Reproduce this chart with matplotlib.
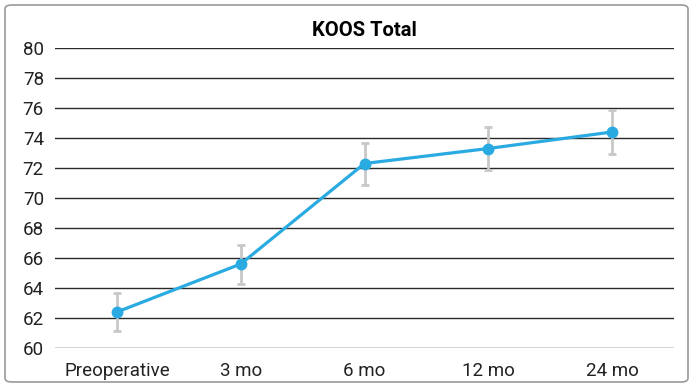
import matplotlib
matplotlib.use("Agg")
import matplotlib.pyplot as plt
from matplotlib.patches import FancyBboxPatch

# KOOS total score over follow-up
timepoints = ["Preoperative", "3 mo", "6 mo", "12 mo", "24 mo"]
koos_mean = [62.4, 65.6, 72.3, 73.3, 74.4]
koos_err = [1.25, 1.3, 1.4, 1.45, 1.45]
yticks = list(range(60, 81, 2))

plt.rcParams['font.family'] = ['Roboto', 'DejaVu Sans']

fig = plt.figure(figsize=(6.93, 3.87), dpi=100)
ax = fig.add_axes([55/693, 1-348/387, (674-55)/693, (348-48)/387])

# rounded frame around the whole chart
frame = FancyBboxPatch((5/693, 5/387), 683/693, 377/387,
                       boxstyle="round,pad=0,rounding_size=0.01",
                       transform=fig.transFigure, facecolor='none',
                       edgecolor='#9a9a9a', linewidth=1.2)
fig.patches.append(frame)

x = range(len(timepoints))
ax.errorbar(x, koos_mean, yerr=koos_err, fmt='none', ecolor='#c8c8c8',
            elinewidth=2, capsize=3, capthick=2, zorder=3)
ax.plot(x, koos_mean, color='#29abe2', linewidth=2.3, marker='o',
        markersize=7.5, zorder=4)

ax.set_ylim(60, 80)
ax.set_xlim(-0.5, len(timepoints) - 0.5)
ax.set_yticks(yticks)
ax.set_xticks(list(x))
ax.set_xticklabels(timepoints)
ax.yaxis.grid(True, color='#2a2a2a', linewidth=1)
ax.set_axisbelow(True)
for s in ax.spines.values():
    s.set_visible(False)
ax.tick_params(axis='both', length=0, labelsize=13.5, colors='#222222')
ax.tick_params(axis='y', pad=8)
ax.tick_params(axis='x', pad=10)
ax.set_title("KOOS Total", fontsize=14.5, fontweight='bold', pad=9)

fig.savefig("out.png", dpi=100)
